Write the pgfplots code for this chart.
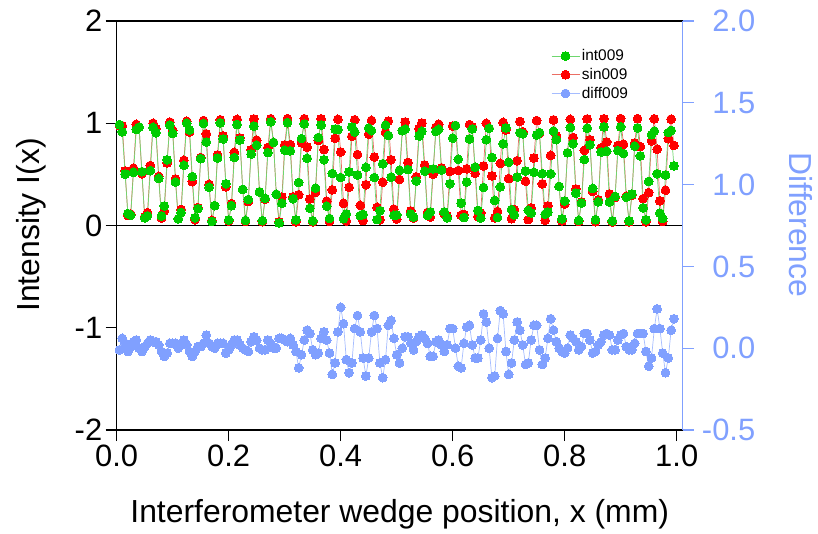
\documentclass[border=0pt]{standalone}
\usepackage{fontspec}
\setmainfont{Liberation Sans}
\usepackage{pgfplots}
\usepackage{pgfplotstable}
\pgfplotsset{compat=1.18}

\definecolor{intgreen}{RGB}{0,204,0}
\definecolor{intline}{RGB}{110,215,110}
\definecolor{sinred}{RGB}{255,0,0}
\definecolor{sinline}{RGB}{235,110,100}
\definecolor{diffblue}{RGB}{128,160,255}
\definecolor{diffline}{RGB}{165,188,255}
\definecolor{difftext}{RGB}{128,160,255}

% wedge scan: measured intensity, fitted sinusoid and their difference
\pgfplotstableread{
x int sin diff
0.005 0.986 0.976 -0.01
0.010 0.916 0.976 0.06
0.015 0.503 0.533 0.03
0.020 0.117 0.097 -0.02
0.025 0.101 0.111 0.01
0.030 0.520 0.560 0.04
0.035 0.939 0.989 0.05
0.040 0.962 0.962 0.00
0.045 0.527 0.507 -0.02
0.050 0.075 0.085 0.01
0.055 0.095 0.125 0.03
0.060 0.536 0.586 0.05
0.065 0.960 1.000 0.04
0.070 0.907 0.947 0.04
0.075 0.461 0.481 0.02
0.080 0.094 0.074 -0.02
0.085 0.191 0.141 -0.05
0.090 0.642 0.612 -0.03
0.095 0.981 1.011 0.03
0.100 0.901 0.931 0.03
0.105 0.424 0.454 0.03
0.110 0.065 0.065 0.00
0.115 0.127 0.157 0.03
0.120 0.588 0.638 0.05
0.125 1.000 1.020 0.02
0.130 0.934 0.914 -0.02
0.135 0.479 0.429 -0.05
0.140 0.076 0.056 -0.02
0.145 0.165 0.175 0.01
0.150 0.654 0.664 0.01
0.155 0.997 1.027 0.03
0.160 0.816 0.896 0.08
0.165 0.373 0.403 0.03
0.170 0.040 0.050 0.01
0.175 0.194 0.194 0.00
0.180 0.660 0.690 0.03
0.185 1.004 1.034 0.03
0.190 0.846 0.876 0.03
0.195 0.408 0.378 -0.03
0.200 0.054 0.044 -0.01
0.205 0.194 0.214 0.02
0.210 0.665 0.715 0.05
0.215 0.988 1.038 0.05
0.220 0.836 0.856 0.02
0.225 0.353 0.353 0.00
0.230 0.050 0.040 -0.01
0.235 0.254 0.234 -0.02
0.240 0.699 0.739 0.04
0.245 0.972 1.042 0.07
0.250 0.785 0.835 0.05
0.255 0.329 0.329 0.00
0.260 0.047 0.037 -0.01
0.265 0.266 0.256 -0.01
0.270 0.713 0.763 0.05
0.275 1.014 1.044 0.03
0.280 0.813 0.813 0.00
0.285 0.305 0.305 0.00
0.290 0.025 0.035 0.06
0.295 0.218 0.278 0.06
0.300 0.737 0.787 0.05
0.305 1.005 1.045 0.04
0.310 0.731 0.791 0.06
0.315 0.262 0.282 0.02
0.320 0.055 0.035 -0.02
0.325 0.421 0.301 -0.12
0.330 0.850 0.810 -0.04
0.335 0.994 1.044 0.05
0.340 0.657 0.767 0.11
0.345 0.169 0.259 0.09
0.350 0.046 0.036 -0.01
0.355 0.365 0.325 -0.04
0.360 0.861 0.831 -0.03
0.365 0.983 1.043 0.06
0.370 0.643 0.743 0.10
0.375 0.188 0.238 0.05
0.380 0.069 0.039 -0.03
0.385 0.509 0.349 -0.16
0.390 0.943 0.853 -0.09
0.395 0.939 1.039 0.10
0.400 0.469 0.719 0.25
0.405 0.067 0.217 0.15
0.410 0.113 0.043 -0.07
0.415 0.524 0.374 -0.15
0.420 0.963 0.873 -0.09
0.425 0.914 1.034 0.12
0.430 0.494 0.694 0.20
0.435 0.097 0.197 0.10
0.440 0.108 0.048 -0.06
0.445 0.569 0.399 -0.17
0.450 0.952 0.892 -0.06
0.455 0.928 1.028 0.10
0.460 0.469 0.669 0.20
0.465 0.058 0.178 0.12
0.470 0.145 0.055 -0.09
0.475 0.604 0.424 -0.18
0.480 0.981 0.911 -0.07
0.485 0.881 1.021 0.14
0.490 0.473 0.643 0.17
0.495 0.100 0.160 0.06
0.500 0.103 0.063 -0.04
0.505 0.540 0.450 -0.09
0.510 0.928 0.928 0.00
0.515 0.942 1.012 0.07
0.520 0.547 0.617 0.07
0.525 0.113 0.143 0.03
0.530 0.083 0.073 -0.01
0.535 0.436 0.476 0.04
0.540 0.875 0.945 0.07
0.545 0.922 1.002 0.08
0.550 0.531 0.591 0.06
0.555 0.098 0.128 0.03
0.560 0.133 0.083 -0.05
0.565 0.553 0.503 -0.05
0.570 0.920 0.960 0.04
0.575 0.941 0.991 0.05
0.580 0.544 0.564 0.02
0.585 0.133 0.113 -0.02
0.590 0.075 0.095 0.02
0.595 0.409 0.529 0.12
0.600 0.854 0.974 0.12
0.605 0.978 0.978 0.00
0.610 0.648 0.538 -0.11
0.615 0.219 0.099 -0.12
0.620 0.078 0.108 0.03
0.625 0.425 0.555 0.13
0.630 0.847 0.987 0.14
0.635 0.945 0.965 0.02
0.640 0.571 0.511 -0.06
0.645 0.147 0.087 -0.06
0.650 0.073 0.123 0.05
0.655 0.372 0.582 0.21
0.660 0.839 0.999 0.16
0.665 0.950 0.950 0.00
0.670 0.665 0.485 -0.18
0.675 0.246 0.076 -0.17
0.680 0.078 0.138 0.06
0.685 0.378 0.608 0.23
0.690 0.799 1.009 0.21
0.695 0.954 0.934 -0.02
0.700 0.619 0.459 -0.16
0.705 0.156 0.066 -0.09
0.710 0.105 0.155 0.05
0.715 0.474 0.634 0.16
0.720 0.908 1.018 0.11
0.725 0.897 0.917 0.02
0.730 0.533 0.433 -0.10
0.735 0.148 0.058 -0.09
0.740 0.122 0.172 0.05
0.745 0.520 0.660 0.14
0.750 0.886 1.026 0.14
0.755 0.909 0.899 -0.01
0.760 0.507 0.407 -0.10
0.765 0.111 0.051 -0.06
0.770 0.131 0.191 0.06
0.775 0.506 0.686 0.18
0.780 0.923 1.033 0.11
0.785 0.840 0.880 0.04
0.790 0.382 0.382 0.00
0.795 0.065 0.045 -0.02
0.800 0.240 0.210 -0.03
0.805 0.711 0.711 0.00
0.810 0.958 1.038 0.08
0.815 0.800 0.860 0.06
0.820 0.317 0.357 0.04
0.825 0.050 0.040 -0.01
0.830 0.221 0.231 0.01
0.835 0.645 0.735 0.09
0.840 0.952 1.042 0.09
0.845 0.789 0.839 0.05
0.850 0.363 0.333 -0.03
0.855 0.057 0.037 -0.02
0.860 0.232 0.252 0.02
0.865 0.719 0.759 0.04
0.870 0.964 1.044 0.08
0.875 0.727 0.817 0.09
0.880 0.229 0.309 0.08
0.885 0.045 0.035 -0.01
0.890 0.284 0.274 -0.01
0.895 0.733 0.783 0.05
0.900 0.965 1.045 0.08
0.905 0.704 0.794 0.09
0.910 0.276 0.286 0.01
0.915 0.045 0.035 -0.01
0.920 0.307 0.297 -0.01
0.925 0.776 0.806 0.03
0.930 0.955 1.045 0.09
0.935 0.681 0.771 0.09
0.940 0.173 0.263 0.09
0.945 0.056 0.036 -0.02
0.950 0.431 0.321 -0.11
0.955 0.888 0.828 -0.06
0.960 0.923 1.043 0.12
0.965 0.507 0.747 0.24
0.970 0.121 0.241 0.12
0.975 0.069 0.039 -0.03
0.980 0.495 0.345 -0.15
0.985 0.909 0.849 -0.06
0.990 0.930 1.040 0.11
0.995 0.583 0.783 0.18
}\wedgedata

\pgfplotsset{
  intstyle/.style={color=intline, line width=0.7bp, mark=*, mark size=4.4bp,
    mark options={fill=intgreen, draw=intgreen, line width=0pt}},
  sinstyle/.style={color=sinline, line width=0.7bp, mark=*, mark size=4.4bp,
    mark options={fill=sinred, draw=sinred, line width=0pt}},
  diffstyle/.style={color=diffline, line width=0.7bp, mark=*, mark size=4.4bp,
    mark options={fill=diffblue, draw=diffblue, line width=0pt}},
  frame/.style={
    at={(116.7bp,104bp)}, anchor=south west,
    scale only axis, width=566bp, height=409bp,
    xmin=0, xmax=1.0107,
    tick align=outside, major tick length=11bp,
    /pgf/number format/assume math mode=true,
    tick label style={font=\fontsize{31}{36}\selectfont},
    clip=false,
  },
}

\begin{document}
\begin{tikzpicture}
\path[use as bounding box] (0bp,0bp) rectangle (818bp,534bp);

\begin{axis}[frame,
  ymin=-2, ymax=2,
  axis x line*=box, axis y line*=left,
  axis line style={black, line width=1.2bp},
  tick style={black, line width=1.2bp},
  xtick={0,0.2,0.4,0.6,0.8,1.0}, xtick pos=left,
  ytick={-2,-1,0,1,2}, ytick pos=left,
  xticklabel style={/pgf/number format/.cd, fixed, fixed zerofill, precision=1},
  legend cell align=left,
  legend style={draw=none, fill=none, at={(0.762,0.94)}, anchor=north west,
    font=\fontsize{15.5}{17}\selectfont, row sep=2bp,
    nodes={inner sep=2bp}},
  legend image code/.code={
    \draw[mark repeat=2, mark phase=2, #1]
      plot coordinates {(0bp,0bp) (14bp,0bp) (28bp,0bp)};},
]
  % zero line and the short left overhang of the frame
  \draw[black, line width=1.2bp] (axis cs:0,0) -- (axis cs:1.0107,0);
  \draw[black, line width=1.2bp] ([xshift=-10.7bp]axis cs:0,2) -- (axis cs:0,2);
  \draw[black, line width=1.2bp] ([xshift=-10.7bp]axis cs:0,-2) -- (axis cs:0,-2);

  \addplot[sinstyle, forget plot] table[x=x, y=sin] {\wedgedata};
  \addplot[intstyle, forget plot] table[x=x, y=int] {\wedgedata};

  \addlegendimage{intstyle}\addlegendentry{int009}
  \addlegendimage{sinstyle}\addlegendentry{sin009}
  \addlegendimage{diffstyle}\addlegendentry{diff009}
\end{axis}

\begin{axis}[frame,
  ymin=-0.5, ymax=2.0,
  axis x line=none, axis y line*=right,
  y axis line style={diffblue, line width=1.2bp},
  ytick style={diffblue, line width=1.2bp},
  ytick={-0.5,0,0.5,1.0,1.5,2.0},
  yticklabel style={text=difftext, anchor=east, xshift=65bp,
    /pgf/number format/.cd, fixed, fixed zerofill, precision=1},
]
  \addplot[diffstyle] table[x=x, y=diff] {\wedgedata};
\end{axis}

\node[rotate=90, font=\fontsize{32}{36}\selectfont] at (31bp,309bp) {Intensity I(x)};
\node[rotate=-90, text=difftext, font=\fontsize{32}{36}\selectfont] at (801bp,309bp) {Difference};
\node[font=\fontsize{32}{36}\selectfont] at (399.7bp,20bp) {Interferometer wedge position, x (mm)};
\end{tikzpicture}
\end{document}
